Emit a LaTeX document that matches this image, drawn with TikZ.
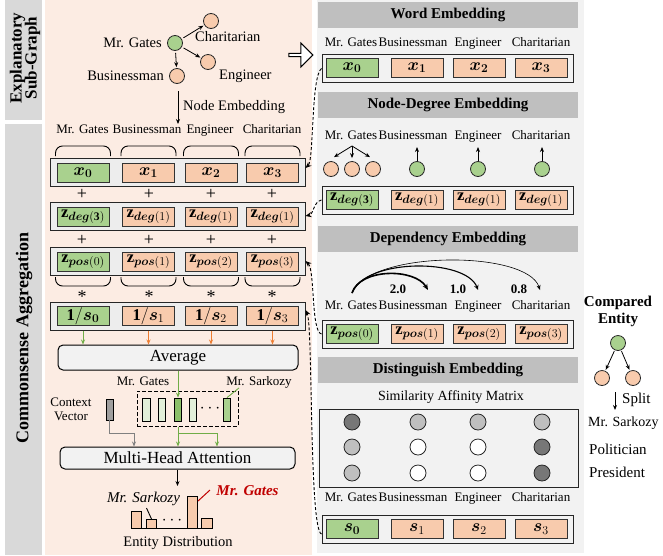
\documentclass[tikz,border=0pt]{standalone}
\usepackage{fontspec}
\setmainfont{Liberation Serif}
\usepackage{bm}
\usetikzlibrary{arrows.meta,shapes.arrows}
\definecolor{gfill}{HTML}{A9D18E}
\definecolor{ofill}{HTML}{F8CBAD}
\definecolor{lgfill}{HTML}{E2F0D9}
\definecolor{dgfill}{HTML}{8CC06A}
\definecolor{pinkbg}{HTML}{FCECE3}
\definecolor{panelgray}{HTML}{F2F2F2}
\definecolor{headgray}{HTML}{BFBFBF}
\definecolor{sidegray}{HTML}{D9D9D9}
\definecolor{rowgray}{HTML}{EDEDED}
\definecolor{garrowc}{HTML}{70AD47}
\definecolor{oarrowc}{HTML}{ED7D31}
\definecolor{gatesred}{HTML}{C00000}
\definecolor{simdark}{HTML}{777777}
\definecolor{simlight}{HTML}{BFBFBF}
\newcommand{\fsz}[1]{\fontsize{#1}{#1}\selectfont}

\begin{document}
\begin{tikzpicture}[x=1pt,y=1pt]
\tikzstyle{gbox}=[draw=black!80,fill=gfill,line width=0.8pt,minimum width=52pt,minimum height=19pt,inner sep=0pt,font=\fsz{16.5}]
\tikzstyle{obox}=[gbox,fill=ofill]
\tikzstyle{rowbox}=[draw=black!85,line width=1pt,minimum height=28pt,inner sep=0pt]
\tikzstyle{lbl}=[inner sep=0pt,text height=9pt,text depth=2.5pt,font=\fsz{13}]
\tikzstyle{head}=[fill=headgray,minimum width=260pt,minimum height=26pt,inner sep=0pt,font=\bfseries\fsz{15}]
\tikzstyle{gnode}=[draw=black!85,line width=0.8pt,circle,fill=gfill,minimum size=15pt,inner sep=0pt]
\tikzstyle{onode}=[gnode,fill=ofill]
\tikzstyle{mnode}=[draw=black!85,line width=0.8pt,circle,minimum size=16pt,inner sep=0pt]
\tikzstyle{arr}=[-{Stealth[length=5pt,width=4pt]},line width=0.8pt]
\tikzstyle{dconn}=[-{Stealth[length=6pt,width=5pt]},line width=0.9pt,dash pattern=on 3pt off 2pt]
\tikzstyle{rbox}=[draw=black,line width=1pt,rounded corners=5pt,fill=panelgray,inner sep=0pt,font=\fsz{17}]
\tikzstyle{bar}=[draw=black,line width=0.9pt,fill=ofill]
\tikzstyle{vrect}=[draw=black,line width=0.8pt,minimum width=7.5pt,minimum height=23pt,inner sep=0pt]
\tikzstyle{sign}=[inner sep=0pt,font=\fsz{18}]
\useasboundingbox (0,0) rectangle (663,-555);
\fill[sidegray] (5,0) rectangle (42,-120);
\fill[sidegray] (5,-124) rectangle (42,-555);
\fill[pinkbg] (45,0) rectangle (312,-555);
\fill[panelgray] (317,0) rectangle (584,-553);
\node[rotate=90,align=center,font=\bfseries\fsz{17}] (sidetop) at (25,-58) {Explanatory\\[-2pt]Sub-Graph};
\node[rotate=90,font=\bfseries\fsz{18}] (sidebot) at (24,-338) {Commonsense Aggregation};

\node[gnode] (sg) at (175,-43) {};
\node[onode] (sc) at (211,-21) {};
\node[onode] (se) at (208,-62) {};
\node[onode] (sb) at (177,-76) {};
\node[anchor=east,inner sep=0pt,font=\fsz{14.5}] (lsg) at (162,-43) {Mr. Gates};
\node[anchor=west,inner sep=0pt,font=\fsz{14.5}] (lsc) at (195,-37) {Charitarian};
\node[anchor=west,inner sep=0pt,font=\fsz{14.5}] (lse) at (219,-76) {Engineer};
\node[anchor=east,inner sep=0pt,font=\fsz{14.5}] (lsb) at (164,-76) {Businessman};
\draw[arr,shorten <=2pt,shorten >=1pt] (sg) -- (sc);
\draw[arr,shorten <=2pt,shorten >=1pt] (sg) -- (se);
\draw[arr,shorten <=2pt,shorten >=1pt] (sg) -- (sb);
\coordinate (nebeg) at (178,-91);
\coordinate (neend) at (178,-124);
\draw[arr] (nebeg) -- (neend);
\node[anchor=west,inner sep=0pt,font=\fsz{14.5}] (lne) at (183,-107) {Node Embedding};
\node[single arrow,draw=black,line width=1pt,fill=white,minimum height=24pt,minimum width=24pt,single arrow head extend=3pt,inner sep=0pt] (bigarrow) at (300,-55) {};

\node[lbl] (ll0) at (82.5,-130) {Mr. Gates};
\node[lbl] (ll1) at (147,-130) {Businessman};
\node[lbl] (ll2) at (210,-130) {Engineer};
\node[lbl] (ll3) at (272,-130) {Charitarian};
\foreach \cx in {83,148.5,211,272.5}
  \draw[rounded corners=7pt,line width=0.9pt] (\cx-27.5,-156) -- (\cx-27.5,-146) -- (\cx+27.5,-146) -- (\cx+27.5,-156);
\foreach \cx in {83,148.5,211,272.5}
  \draw[rounded corners=7pt,line width=0.9pt] (\cx-27.5,-277) -- (\cx-27.5,-286) -- (\cx+27.5,-286) -- (\cx+27.5,-277);

\node[rowbox,fill=rowgray,minimum width=255pt] (row1) at (177.5,-172) {};
\node[gbox] (x0) at (83,-172.5) {$\bm{x}_{\bm{0}}$};
\node[obox] (x1) at (148.5,-172.5) {$\bm{x}_{\bm{1}}$};
\node[obox] (x2) at (211,-172.5) {$\bm{x}_{\bm{2}}$};
\node[obox] (x3) at (272.5,-172.5) {$\bm{x}_{\bm{3}}$};
\node[rowbox,fill=rowgray,minimum width=255pt] (row2) at (177.5,-216) {};
\node[gbox] (zd0) at (83,-216.5) {$\mathbf{z}_{\bm{deg}(\mathbf{3})}$};
\node[obox] (zd1) at (148.5,-216.5) {$\mathbf{z}_{\bm{deg}(1)}$};
\node[obox] (zd2) at (211,-216.5) {$\mathbf{z}_{\bm{deg}(1)}$};
\node[obox] (zd3) at (272.5,-216.5) {$\mathbf{z}_{\bm{deg}(1)}$};
\node[rowbox,fill=rowgray,minimum width=255pt] (row3) at (177.5,-261) {};
\node[gbox] (zp0) at (83,-261.5) {$\mathbf{z}_{\bm{pos}(0)}$};
\node[obox] (zp1) at (148.5,-261.5) {$\mathbf{z}_{\bm{pos}(1)}$};
\node[obox] (zp2) at (211,-261.5) {$\mathbf{z}_{\bm{pos}(2)}$};
\node[obox] (zp3) at (272.5,-261.5) {$\mathbf{z}_{\bm{pos}(3)}$};
\node[rowbox,fill=rowgray,minimum width=255pt] (row4) at (177.5,-316) {};
\node[gbox] (is0) at (83,-316) {$\mathbf{1}/\bm{s}_{\bm{0}}$};
\node[obox] (is1) at (148.5,-316) {$\mathbf{1}/\bm{s}_{1}$};
\node[obox] (is2) at (211,-316) {$\mathbf{1}/\bm{s}_{2}$};
\node[obox] (is3) at (272.5,-316) {$\mathbf{1}/\bm{s}_{3}$};
\foreach \cx [count=\i] in {82,149,211,272} {
  \node[sign] (plusa\i) at (\cx,-194) {+};
  \node[sign] (plusb\i) at (\cx,-240) {+};
  \node[sign] (star\i) at (\cx,-297) {*};
}

\node[rbox,minimum width=240pt,minimum height=25pt] (avg) at (178,-357.5) {Average};
\draw[arr,garrowc] (is0 |- row4.south) -- (is0 |- avg.north);
\draw[arr,oarrowc] (is1 |- row4.south) -- (is1 |- avg.north);
\draw[arr,oarrowc] (is2 |- row4.south) -- (is2 |- avg.north);
\draw[arr,oarrowc] (is3 |- row4.south) -- (is3 |- avg.north);

\node[draw=black,line width=1pt,dash pattern=on 4pt off 2pt,minimum width=101pt,minimum height=35pt,inner sep=0pt] (ebox) at (187.5,-408.5) {};
\node[vrect,fill=lgfill] (ev1) at (146.5,-409.5) {};
\node[vrect,fill=lgfill] (ev2) at (162,-409.5) {};
\node[vrect,fill=dgfill] (ev3) at (178,-409.5) {};
\node[vrect,fill=lgfill] (ev4) at (193,-409.5) {};
\node[inner sep=0pt,font=\fsz{16}] (edots) at (210,-409) {$\cdots$};
\node[vrect,fill=gfill] (ev5) at (227,-409.5) {};
\node[lbl] (lev3) at (143,-382) {Mr. Gates};
\node[lbl] (lev5) at (259,-382) {Mr. Sarkozy};
\draw[garrowc,line width=0.9pt] ([xshift=-20pt]lev5.south) -- (ev5.north);
\draw[arr,garrowc] (avg.south) -- (ev3.north);

\node[lbl,align=center,text height=,text depth=] (lctx) at (71,-409) {Context\\[1pt]Vector};
\node[draw=black,line width=0.8pt,fill=gray!75,minimum width=7pt,minimum height=21pt,inner sep=0pt] (ctx) at (109.5,-409.5) {};
\node[rbox,minimum width=235pt,minimum height=22pt] (mha) at (177.5,-458) {Multi-Head Attention};
\draw[arr,gray] (ctx.south) -- ++(0,-13) -| ([xshift=-43.5pt]mha.north);
\draw[arr,garrowc] (ev3.south |- ebox.south) -- (ev3.south |- mha.north);
\draw[arr,garrowc] (ev3.south |- ebox.south) -- ++(0,-7) -| ([xshift=39.5pt]mha.north);
\coordinate (distop) at (177.5,-486);
\draw[arr] (mha.south) -- (distop);

\draw[line width=0.9pt] (131,-528) -- (212,-528);
\draw[bar] (131,-528) rectangle (141,-511);
\draw[bar] (146,-528) rectangle (156,-519);
\draw[bar] (187,-528) rectangle (197,-496);
\draw[bar] (201,-528) rectangle (212,-518);
\node[inner sep=0pt,font=\fsz{16}] (bdots) at (172,-521) {$\cdots$};
\node[inner sep=0pt,font=\itshape\fsz{15}] (lbsk) at (143.5,-499) {Mr. Sarkozy};
\draw[line width=0.9pt] (146.5,-508) -- (151.5,-519);
\node[inner sep=0pt,text=gatesred,font=\bfseries\itshape\fsz{15}] (lbgt) at (247.5,-491) {Mr. Gates};
\draw[gatesred,line width=1pt] (198,-501) -- (210,-490);
\node[inner sep=0pt,font=\fsz{14.5}] (ldist) at (178,-543) {Entity Distribution};

\node[head] (hword) at (448,-15) {Word Embedding};
\node[lbl] (wl0) at (351,-43) {Mr. Gates};
\node[lbl] (wl1) at (413,-43) {Businessman};
\node[lbl] (wl2) at (478,-43) {Engineer};
\node[lbl] (wl3) at (541,-43) {Charitarian};
\node[rowbox,minimum width=251pt] (wrow) at (447.5,-68.5) {};
\node[gbox] (wx0) at (352,-67.5) {$\bm{x}_{\bm{0}}$};
\node[obox] (wx1) at (417,-67.5) {$\bm{x}_{\bm{1}}$};
\node[obox] (wx2) at (479,-67.5) {$\bm{x}_{\bm{2}}$};
\node[obox] (wx3) at (541,-67.5) {$\bm{x}_{\bm{3}}$};

\node[head] (hdeg) at (448,-105) {Node-Degree Embedding};
\node[lbl] (dl0) at (351,-136) {Mr. Gates};
\node[lbl] (dl1) at (413,-136) {Businessman};
\node[lbl] (dl2) at (478,-136) {Engineer};
\node[lbl] (dl3) at (541,-136) {Charitarian};
\node[onode] (dc1) at (331,-169) {};
\node[onode] (dc2) at (352,-169) {};
\node[onode] (dc3) at (373,-169) {};
\node[gnode] (dc4) at (417,-169) {};
\node[gnode] (dc5) at (478,-169) {};
\node[gnode] (dc6) at (542,-169) {};
\coordinate (dhub) at (352,-146);
\draw[arr] (dhub) -- ([shift={(3pt,4pt)}]dc1.north);
\draw[arr] (dhub) -- ([yshift=3pt]dc2.north);
\draw[arr] (dhub) -- ([shift={(-3pt,4pt)}]dc3.north);
\coordinate (dup4) at (417,-147);
\coordinate (dup5) at (478,-147);
\coordinate (dup6) at (542,-147);
\draw[arr] (dc4.north) -- (dup4);
\draw[arr] (dc5.north) -- (dup5);
\draw[arr] (dc6.north) -- (dup6);
\node[rowbox,minimum width=251pt] (drow) at (447.5,-200) {};
\node[gbox] (wd0) at (352,-200) {$\mathbf{z}_{\bm{deg}(\mathbf{3})}$};
\node[obox] (wd1) at (417,-200) {$\mathbf{z}_{\bm{deg}(1)}$};
\node[obox] (wd2) at (479,-200) {$\mathbf{z}_{\bm{deg}(1)}$};
\node[obox] (wd3) at (541,-200) {$\mathbf{z}_{\bm{deg}(1)}$};

\node[head] (hdep) at (448,-238.5) {Dependency Embedding};
\coordinate (psrc) at (352,-293);
\coordinate (pdst1) at (428,-290);
\coordinate (pdst2) at (478,-290);
\coordinate (pdst3) at (540,-290);
\draw[-{Stealth[length=6pt,width=5pt]},line width=1.6pt] (psrc) .. controls (360,-268) and (415,-268) .. (pdst1);
\draw[-{Stealth[length=5pt,width=4.5pt]},line width=1.1pt] (psrc) .. controls (365,-258) and (466,-258) .. (pdst2);
\draw[-{Stealth[length=5pt,width=4pt]},line width=0.6pt] (psrc) .. controls (370,-250) and (527,-250) .. (pdst3);
\node[inner sep=0pt,font=\bfseries\fsz{13}] (pw1) at (398,-289) {2.0};
\node[inner sep=0pt,font=\bfseries\fsz{13}] (pw2) at (458,-289) {1.0};
\node[inner sep=0pt,font=\bfseries\fsz{13}] (pw3) at (519,-289) {0.8};
\node[lbl] (pl0) at (351,-306) {Mr. Gates};
\node[lbl] (pl1) at (413,-306) {Businessman};
\node[lbl] (pl2) at (478,-306) {Engineer};
\node[lbl] (pl3) at (541,-306) {Charitarian};
\node[rowbox,minimum width=251pt] (prow) at (447.5,-334) {};
\node[gbox] (wp0) at (352,-334) {$\mathbf{z}_{\bm{pos}(0)}$};
\node[obox] (wp1) at (417,-334) {$\mathbf{z}_{\bm{pos}(1)}$};
\node[obox] (wp2) at (479,-334) {$\mathbf{z}_{\bm{pos}(2)}$};
\node[obox] (wp3) at (541,-334) {$\mathbf{z}_{\bm{pos}(3)}$};

\node[head] (hdis) at (448,-369.5) {Distinguish Embedding};
\node[inner sep=0pt,font=\fsz{14}] (lsim) at (451,-397) {Similarity Affinity Matrix};
\node[draw=black!85,line width=1pt,minimum width=259pt,minimum height=78pt,inner sep=0pt] (simbox) at (448.5,-448) {};
\node[mnode,fill=simdark] (m11) at (352,-422) {};
\node[mnode,fill=simlight] (m12) at (418,-422) {};
\node[mnode,fill=simlight] (m13) at (478,-422) {};
\node[mnode,fill=simlight] (m14) at (542,-422) {};
\node[mnode,fill=simlight] (m21) at (352,-447) {};
\node[mnode,fill=white] (m22) at (418,-447) {};
\node[mnode,fill=white] (m23) at (478,-447) {};
\node[mnode,fill=simdark] (m24) at (542,-447) {};
\node[mnode,fill=simlight] (m31) at (352,-473) {};
\node[mnode,fill=white] (m32) at (418,-473) {};
\node[mnode,fill=white] (m33) at (478,-473) {};
\node[mnode,fill=simdark] (m34) at (542,-473) {};
\node[lbl] (sl0) at (351,-498) {Mr. Gates};
\node[lbl] (sl1) at (413,-498) {Businessman};
\node[lbl] (sl2) at (478,-498) {Engineer};
\node[lbl] (sl3) at (541,-498) {Charitarian};
\node[rowbox,minimum width=251pt] (srow) at (447.5,-529) {};
\node[gbox] (ws0) at (352,-529) {$\bm{s}_{\bm{0}}$};
\node[obox] (ws1) at (417,-529) {$\bm{s}_{1}$};
\node[obox] (ws2) at (479,-529) {$\bm{s}_{2}$};
\node[obox] (ws3) at (541,-529) {$\bm{s}_{3}$};

\node[align=center,inner sep=0pt,font=\bfseries\fsz{15}] (lcmp) at (618,-311) {Compared\\[2pt]Entity};
\node[gnode] (cg) at (618,-343) {};
\node[onode] (co1) at (602,-378) {};
\node[onode] (co2) at (633,-378) {};
\draw[arr,shorten <=1pt,shorten >=1pt] (cg) -- (co1);
\draw[arr,shorten <=1pt,shorten >=1pt] (cg) -- (co2);
\coordinate (spbeg) at (615,-392);
\coordinate (spend) at (615,-410);
\draw[arr] (spbeg) -- (spend);
\node[anchor=west,inner sep=0pt,font=\fsz{15}] (lsplit) at (622,-400) {Split};
\node[anchor=west,inner sep=0pt,font=\fsz{14}] (lsark) at (588,-423) {Mr. Sarkozy};
\node[anchor=west,inner sep=0pt,font=\fsz{15}] (lpol) at (589,-449) {Politician};
\node[anchor=west,inner sep=0pt,font=\fsz{15}] (lpres) at (589,-472) {President};

\draw[dconn] (wrow.west) .. controls (311,-76) and (314,-160) .. ([yshift=4pt]row1.east);
\draw[dconn] (drow.west) .. controls (313,-202) and (314,-214) .. (row2.east);
\draw[dconn] (prow.west) .. controls (311,-332) and (315,-270) .. (row3.east);
\draw[dconn] ([yshift=-5pt]srow.west) .. controls (309,-530) and (313,-325) .. ([yshift=6pt]row4.east);
\end{tikzpicture}
\end{document}
